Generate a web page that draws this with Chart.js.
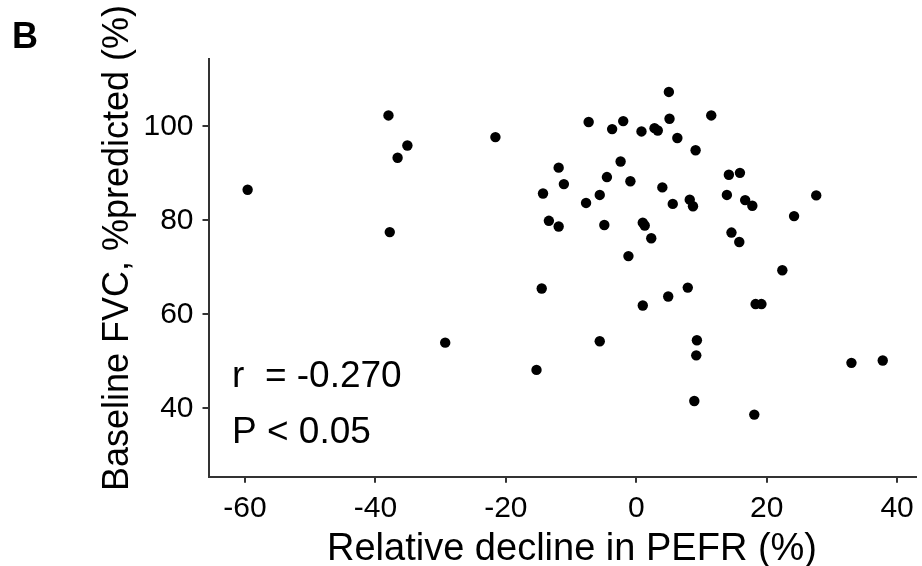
<!DOCTYPE html>
<html>
<head>
<meta charset="utf-8">
<script src="https://cdn.jsdelivr.net/npm/chart.js@4/dist/chart.umd.min.js"></script>
<style>
  html, body { margin: 0; padding: 0; background: #ffffff; }
  #wrap { width: 922px; height: 566px; position: relative; }
</style>
</head>
<body>
<div id="wrap"><canvas id="c" width="922" height="566"></canvas></div>
<script>
// Relative decline in PEFR (%)
const pefrDecline = [
  -59.6, -38.0, -35.1, -36.6, -37.8, -21.6, 5.0, 11.5, -7.3, -3.7,
  -2.0, 0.8, 2.8, 3.3, 5.1, 6.3, 9.1, -11.9, -2.4, -11.1,
  -4.5, -0.9, -14.3, -5.6, -7.7, 4.0, 5.6, 8.2, 8.7, 14.2,
  15.9, 13.9, 16.7, 17.8, 27.6, 24.2, 14.6, 15.8, 22.4, -13.4,
  -11.9, -4.9, 1.0, 1.3, 2.3, -1.2, -14.5, 1.0, 4.9, 7.9,
  -5.6, 9.3, 9.2, -15.3, 8.9, -29.3, 18.3, 19.2, 33.0, 37.8,
  18.1
];
// Baseline FVC, %predicted
const baselineFVC = [
  86.5, 102.3, 95.9, 93.3, 77.5, 97.7, 107.3, 102.3, 100.9, 99.4,
  101.1, 98.9, 99.6, 99.1, 101.6, 97.5, 94.9, 91.2, 92.5, 87.7,
  89.2, 88.3, 85.7, 85.4, 83.7, 87.0, 83.5, 84.4, 83.0, 89.7,
  90.1, 85.4, 84.3, 83.1, 85.3, 80.9, 77.4, 75.4, 69.4, 79.9,
  78.7, 79.0, 79.5, 78.9, 76.2, 72.4, 65.5, 61.9, 63.8, 65.7,
  54.3, 54.5, 51.3, 48.2, 41.6, 54.0, 62.2, 62.2, 49.7, 50.2,
  38.7
];
const xTickValues = [-60, -40, -20, 0, 20, 40];
const yTickValues = [40, 60, 80, 100];
const panelLabel = "B";
const xTitle = "Relative decline in PEFR (%)";
const yTitle = "Baseline FVC, %predicted (%)";
const statLines = ["r  = -0.270", "P < 0.05"];

const FONT = '"Liberation Sans", Arial, Helvetica, sans-serif';

const points = pefrDecline.map((x, i) => ({ x: x, y: baselineFVC[i] }));

const textPlugin = {
  id: 'textPlugin',
  afterDraw(chart) {
    const ctx = chart.ctx;
    ctx.save();
    ctx.fillStyle = '#000000';
    // panel label
    ctx.font = 'bold 36px ' + FONT;
    ctx.textAlign = 'left';
    ctx.textBaseline = 'alphabetic';
    ctx.fillText(panelLabel, 12, 48);
    // x title
    ctx.font = '38px ' + FONT;
    ctx.textAlign = 'center';
    ctx.fillText(xTitle, 572, 560);
    // y title
    ctx.save();
    ctx.translate(128, 248);
    ctx.rotate(-Math.PI / 2);
    ctx.font = '36px ' + FONT;
    ctx.textAlign = 'center';
    ctx.fillText(yTitle, 0, 0);
    ctx.restore();
    // stats
    ctx.font = '37px ' + FONT;
    ctx.textAlign = 'left';
    ctx.fillText(statLines[0], 232, 387);
    ctx.fillText(statLines[1], 232, 443);
    ctx.restore();
  }
};

new Chart(document.getElementById('c'), {
  type: 'scatter',
  data: {
    datasets: [{
      data: points,
      backgroundColor: '#000000',
      borderColor: '#000000',
      pointRadius: 5.2,
      pointHoverRadius: 5.2,
      borderWidth: 0
    }]
  },
  options: {
    responsive: false,
    animation: false,
    devicePixelRatio: 1,
    layout: { padding: { top: 59, right: 6, left: 0, bottom: 0 } },
    plugins: { legend: { display: false }, tooltip: { enabled: false } },
    scales: {
      x: {
        type: 'linear',
        min: -65.6,
        max: 42.9,
        afterBuildTicks: (s) => { s.ticks = xTickValues.map(v => ({ value: v })); },
        afterFit: (s) => { s.height = 89.3; },
        grid: { drawOnChartArea: false, drawTicks: true, tickLength: 6, color: '#333333', lineWidth: 2 },
        border: { display: true, color: '#333333', width: 2 },
        ticks: { color: '#000000', padding: 8, font: { family: FONT, size: 30 }, maxRotation: 0, autoSkip: false }
      },
      y: {
        type: 'linear',
        min: 25.5,
        max: 114.3,
        afterBuildTicks: (s) => { s.ticks = yTickValues.map(v => ({ value: v })); },
        afterFit: (s) => { s.width = 208.5; },
        grid: { drawOnChartArea: false, drawTicks: true, tickLength: 6, color: '#333333', lineWidth: 2 },
        border: { display: true, color: '#333333', width: 2 },
        ticks: { color: '#000000', padding: 9, font: { family: FONT, size: 30 }, autoSkip: false }
      }
    }
  },
  plugins: [textPlugin]
});
</script>
</body>
</html>
